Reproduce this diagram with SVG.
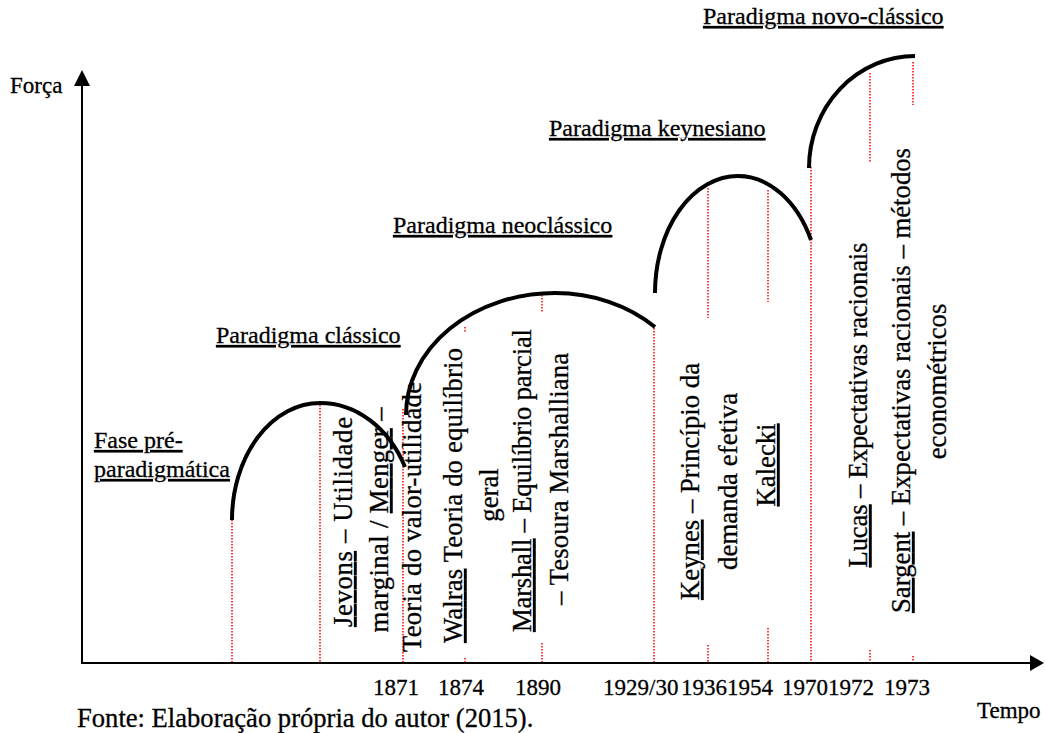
<svg xmlns="http://www.w3.org/2000/svg" width="1045" height="733" viewBox="0 0 1045 733" font-family="'Liberation Serif', 'DejaVu Serif', serif">
  <style>
    text { fill: #000; stroke: #000; stroke-width: 0.3px; }
    .lbl { font-size: 24px; }
    .ul { text-decoration: underline; }
    .rot { font-size: 26.7px; text-anchor: middle; }
    .yr { font-size: 23px; }
    .arc { fill: none; stroke: #000; stroke-width: 4; }
    .axis { fill: none; stroke: #000; stroke-width: 2; }
    .mark { fill: none; stroke: #ff0000; stroke-width: 1.5; stroke-dasharray: 1.5 1.5; }
  </style>

  <!-- axes -->
  <g id="axes">
    <line class="axis" x1="82" y1="663" x2="82" y2="84"/>
    <polygon points="82,70 74,86 90,86" fill="#000"/>
    <line class="axis" x1="81" y1="663" x2="1032" y2="663"/>
    <polygon points="1044,663 1030,655 1030,671" fill="#000"/>
    <text class="lbl" x="10" y="93" style="font-size:23px">Força</text>
    <text class="lbl" x="977" y="718" style="font-size:23px">Tempo</text>
  </g>

  <!-- dotted year markers -->
  <g id="connectors">
    <line class="mark" x1="232" y1="520" x2="232" y2="662"/>
    <line class="mark" x1="320" y1="405" x2="320" y2="662"/>
    <line class="mark" x1="403" y1="409" x2="403" y2="662"/>
    <line class="mark" x1="465" y1="327" x2="465" y2="333"/>
    <line class="mark" x1="465" y1="658" x2="465" y2="662"/>
    <line class="mark" x1="542" y1="292" x2="542" y2="313"/>
    <line class="mark" x1="542" y1="643" x2="542" y2="662"/>
    <line class="mark" x1="654" y1="325" x2="654" y2="662"/>
    <line class="mark" x1="708" y1="188" x2="708" y2="318"/>
    <line class="mark" x1="708" y1="645" x2="708" y2="662"/>
    <line class="mark" x1="768" y1="190" x2="768" y2="302"/>
    <line class="mark" x1="768" y1="628" x2="768" y2="662"/>
    <line class="mark" x1="811" y1="167" x2="811" y2="662"/>
    <line class="mark" x1="870" y1="73" x2="870" y2="163"/>
    <line class="mark" x1="870" y1="650" x2="870" y2="662"/>
    <line class="mark" x1="913" y1="62" x2="913" y2="105"/>
    <line class="mark" x1="913" y1="656" x2="913" y2="662"/>
  </g>

  <!-- paradigm curves -->
  <g id="curves">
    <path class="arc" d="M232,520 A88,117 0 0 1 320,403 A95,117 0 0 1 405,467"/>
    <path class="arc" d="M406,415 A149,122 0 0 1 555,293 A144,122 0 0 1 655,327"/>
    <path class="arc" d="M655,293 A83,117 0 0 1 738,176 A82,117 0 0 1 811,240"/>
    <path class="arc" d="M809,168 A106,112 0 0 1 915,56"/>
  </g>

  <!-- paradigm titles -->
  <g id="pre-paradigm">
    <text class="lbl ul" x="94" y="448">Fase pré-</text>
    <text class="lbl ul" x="94" y="477">paradigmática</text>
  </g>
  <g id="classic">
    <text class="lbl ul" x="216" y="343">Paradigma clássico</text>
  </g>
  <g id="neoclassic">
    <text class="lbl ul" x="393" y="233">Paradigma neoclássico</text>
  </g>
  <g id="keynesian">
    <text class="lbl ul" x="549" y="136">Paradigma keynesiano</text>
  </g>
  <g id="new-classic">
    <text class="lbl ul" x="703" y="24">Paradigma novo-clássico</text>
  </g>

  <!-- authors and theories (vertical) -->
  <g id="marginalists">
    <text class="rot" transform="translate(352,522) rotate(-90)" textLength="210" lengthAdjust="spacing"><tspan class="ul">Jevons</tspan> – Utilidade</text>
    <text class="rot" transform="translate(388,520) rotate(-90)" textLength="225" lengthAdjust="spacing">marginal / <tspan class="ul">Menger</tspan> –</text>
    <text class="rot" transform="translate(421,517) rotate(-90)" textLength="270" lengthAdjust="spacing">Teoria do valor-utilidade</text>
  </g>
  <g id="walras">
    <text class="rot" transform="translate(462,495.5) rotate(-90)" textLength="295" lengthAdjust="spacing"><tspan class="ul">Walras</tspan> Teoria do equilíbrio</text>
    <text class="rot" transform="translate(498,495) rotate(-90)">geral</text>
  </g>
  <g id="marshall">
    <text class="rot" transform="translate(531,480.5) rotate(-90)" textLength="303" lengthAdjust="spacing"><tspan class="ul">Marshall</tspan> – Equilíbrio parcial</text>
    <text class="rot" transform="translate(568,479) rotate(-90)" textLength="252" lengthAdjust="spacing">– Tesoura Marshalliana</text>
  </g>
  <g id="keynes">
    <text class="rot" transform="translate(699,481.5) rotate(-90)" textLength="237" lengthAdjust="spacing"><tspan class="ul">Keynes</tspan> – Princípio da</text>
    <text class="rot" transform="translate(737,481.5) rotate(-90)" textLength="177" lengthAdjust="spacing">demanda efetiva</text>
  </g>
  <g id="kalecki">
    <text class="rot" transform="translate(775,465) rotate(-90)"><tspan class="ul">Kalecki</tspan></text>
  </g>
  <g id="lucas">
    <text class="rot" transform="translate(867,405) rotate(-90)" textLength="325" lengthAdjust="spacing"><tspan class="ul">Lucas</tspan> – Expectativas racionais</text>
  </g>
  <g id="sargent">
    <text class="rot" transform="translate(910,380.5) rotate(-90)" textLength="465" lengthAdjust="spacing"><tspan class="ul">Sargent</tspan> – Expectativas racionais – métodos</text>
    <text class="rot" transform="translate(946,381.5) rotate(-90)">econométricos</text>
  </g>

  <!-- year labels -->
  <g id="years">
    <text class="yr" x="373" y="695">1871</text>
    <text class="yr" x="438" y="695">1874</text>
    <text class="yr" x="515" y="695">1890</text>
    <text class="yr" x="603" y="695">1929/30</text>
    <text class="yr" x="681" y="695">1936</text>
    <text class="yr" x="727" y="695">1954</text>
    <text class="yr" x="782" y="695">1970</text>
    <text class="yr" x="828" y="695">1972</text>
    <text class="yr" x="884" y="695">1973</text>
  </g>

  <g id="source">
    <text x="77" y="727" style="font-size:26.6px">Fonte: Elaboração própria do autor (2015).</text>
  </g>
</svg>
